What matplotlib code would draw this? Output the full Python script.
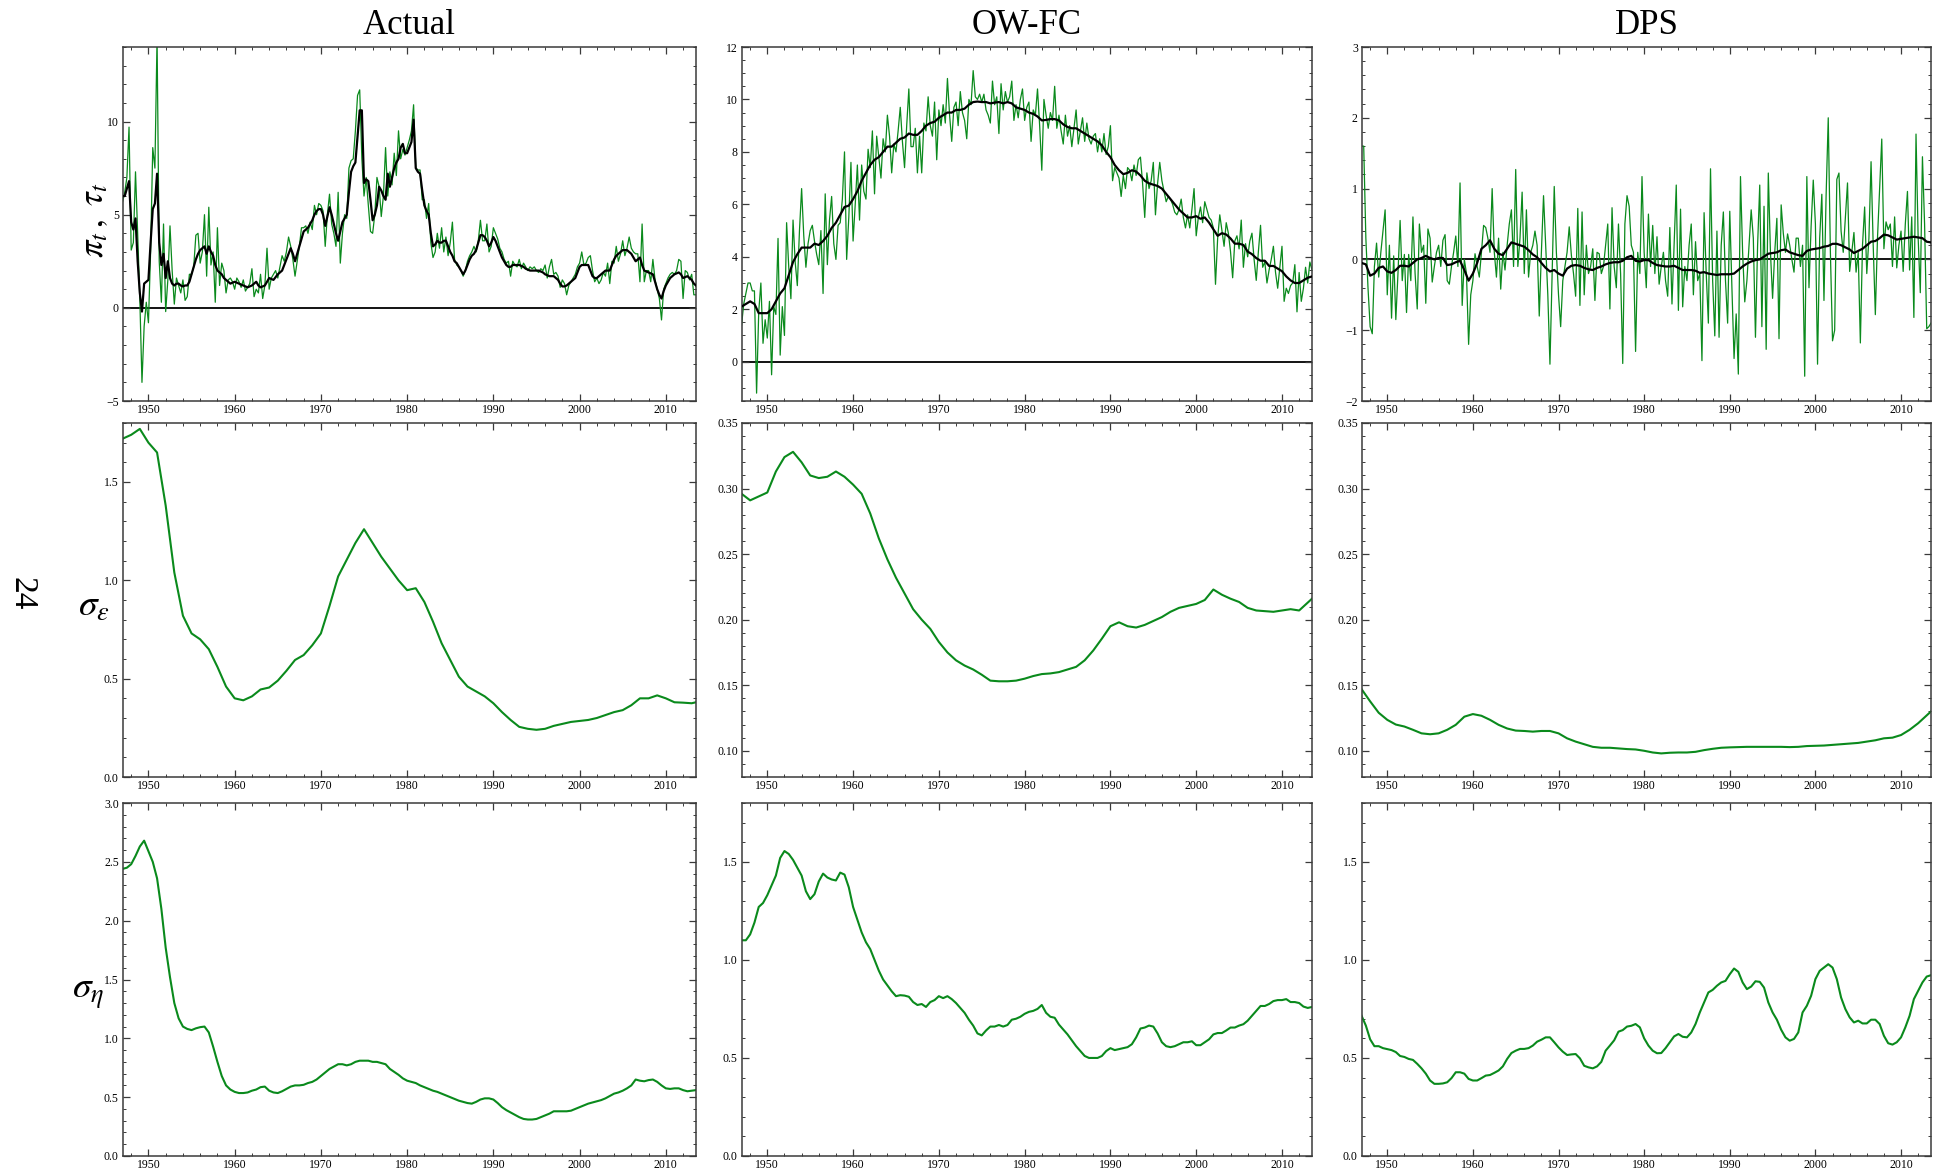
import numpy as np
import matplotlib
matplotlib.use("Agg")
import matplotlib.pyplot as plt
from matplotlib.ticker import MultipleLocator, FuncFormatter

plt.rcParams['font.family'] = ['Liberation Serif', 'DejaVu Serif']
plt.rcParams['mathtext.fontset'] = 'stix'

# ---------------- data ----------------
# quarterly inflation, 1947Q1 onwards (green, top row)
actual_pi = [5.7, 6.2, 7.0, 9.7, 3.1, 3.5, 7.3, 4.0, 0.5, -4.0, -1.0, 0.3,
             -0.8, 3.0, 8.6, 7.5, 14.5, 2.5, 0.3, 4.5, -0.2, 1.5, 4.4, 2.0,
             0.2, 1.6, 1.2, 0.8, 1.5, 0.4, 0.6, 1.8, 1.8, 2.2, 3.9, 4.0,
             2.4, 3.0, 5.0, 1.7, 5.4, 2.3, 3.0, 0.3, 4.3, 1.2, 2.4, 2.0,
             0.8, 1.5, 1.6, 1.4, 1.0, 1.6, 1.4, 1.1, 1.5, 0.9, 1.1, 1.3,
             2.1, 0.6, 1.0, 0.8, 1.8, 0.5, 1.2, 3.2, 1.0, 1.6, 1.8, 2.0,
             1.6, 2.2, 2.8, 2.5, 3.0, 3.8, 3.3, 2.6, 1.7, 2.5, 3.3, 4.3,
             4.3, 4.4, 4.0, 4.6, 4.2, 5.5, 5.0, 5.6, 5.5, 5.2, 3.3, 5.0,
             6.1, 4.5, 4.0, 3.3, 6.2, 2.4, 4.0, 5.0, 4.8, 7.5, 7.9, 8.0,
             9.5, 11.4, 11.7, 8.0, 6.0, 7.0, 5.5, 4.1, 4.0, 5.0, 7.0, 6.5,
             4.9, 6.0, 8.6, 6.0, 7.3, 6.6, 8.3, 7.1, 9.5, 8.0, 8.5, 8.2,
             8.6, 9.0, 9.5, 10.9, 7.5, 7.4, 7.4, 5.8, 5.8, 4.8, 5.6, 3.5,
             2.7, 3.0, 4.0, 3.2, 4.3, 3.0, 3.8, 2.8, 3.5, 4.6, 2.6, 2.3,
             2.2, 2.0, 1.7, 2.0, 2.5, 2.8, 3.0, 3.3, 3.0, 3.6, 4.7, 3.6,
             3.6, 4.5, 3.0, 3.3, 4.3, 4.0, 3.7, 3.2, 3.0, 2.6, 2.4, 2.5,
             1.7, 2.5, 2.3, 2.2, 2.6, 2.1, 2.4, 2.2, 2.0, 2.2, 2.1, 2.2,
             2.0, 1.9, 2.1, 2.0, 2.3, 1.6, 2.2, 2.6, 1.8, 1.9, 1.7, 1.1,
             1.5, 1.3, 0.7, 1.2, 1.4, 1.6, 1.8, 2.2, 2.4, 3.0, 2.3, 2.4,
             2.7, 2.8, 2.0, 1.4, 1.6, 1.3, 1.5, 1.9, 1.7, 2.4, 1.3, 2.5,
             2.4, 3.3, 2.5, 2.9, 3.6, 2.8, 3.2, 3.8, 3.2, 3.0, 2.9, 2.9,
             1.4, 4.5, 1.4, 2.0, 2.0, 1.4, 2.6, 1.5, 1.0, 0.5, -0.65, 1.0,
             1.3, 1.6, 1.8, 1.9, 1.8, 2.0, 2.6, 2.5, 0.5, 2.0, 1.9, 1.5,
             1.8, 0.7, 0.7]
actual_tau = [6.0, 6.0, 6.4, 6.8, 4.6, 4.2, 4.8, 2.5, 0.8, -0.2, 1.3, 1.4,
              1.5, 3.5, 5.3, 5.6, 7.2, 3.5, 2.3, 2.9, 1.6, 2.5, 1.6, 1.3,
              1.2, 1.3, 1.3, 1.2, 1.15, 1.2, 1.2, 1.4, 1.8, 2.2, 2.6, 2.9,
              3.1, 3.2, 3.3, 2.9, 3.3, 3.0, 2.8, 2.3, 2.0, 1.9, 1.8, 1.6,
              1.5, 1.4, 1.3, 1.35, 1.4, 1.35, 1.3, 1.25, 1.2, 1.15, 1.1, 1.15,
              1.2, 1.3, 1.4, 1.2, 1.1, 1.15, 1.2, 1.4, 1.6, 1.55, 1.5, 1.65,
              1.8, 1.9, 2.0, 2.3, 2.6, 2.9, 3.2, 2.9, 2.5, 2.9, 3.3, 3.7,
              4.1, 4.2, 4.3, 4.5, 4.7, 5.0, 5.2, 5.3, 5.3, 5.0, 4.4, 4.9,
              5.4, 5.0, 4.5, 4.0, 3.6, 4.1, 4.6, 4.8, 5.0, 6.2, 7.3, 7.6,
              7.8, 9.2, 10.6, 10.6, 6.7, 6.9, 6.8, 5.8, 4.7, 5.0, 5.5, 6.5,
              6.3, 6.0, 5.8, 7.2, 6.5, 7.0, 7.5, 7.8, 8.0, 8.6, 8.8, 8.3,
              8.3, 8.6, 8.9, 10.1, 7.5, 7.3, 7.2, 6.3, 5.5, 5.2, 5.0, 4.0,
              3.3, 3.4, 3.6, 3.5, 3.5, 3.6, 3.6, 3.3, 3.0, 2.8, 2.5, 2.4,
              2.2, 2.0, 1.8, 2.0, 2.3, 2.6, 2.8, 2.9, 3.1, 3.5, 3.9, 3.9,
              3.8, 3.6, 3.3, 3.5, 3.8, 3.6, 3.3, 3.0, 2.7, 2.5, 2.3, 2.2,
              2.2, 2.3, 2.3, 2.3, 2.3, 2.25, 2.2, 2.1, 2.05, 2.0, 2.0, 2.0,
              2.0, 2.0, 1.95, 1.9, 1.8, 1.75, 1.7, 1.7, 1.7, 1.6, 1.5, 1.3,
              1.15, 1.15, 1.2, 1.3, 1.4, 1.5, 1.6, 1.9, 2.2, 2.3, 2.3, 2.3,
              2.3, 2.0, 1.7, 1.6, 1.6, 1.7, 1.8, 1.9, 2.0, 2.0, 2.0, 2.3,
              2.6, 2.8, 2.9, 3.0, 3.1, 3.1, 3.1, 3.0, 2.9, 2.7, 2.5, 2.6,
              2.7, 2.3, 2.0, 1.95, 1.9, 1.85, 1.8, 1.4, 1.0, 0.7, 0.5, 0.9,
              1.2, 1.4, 1.6, 1.7, 1.8, 1.85, 1.9, 1.8, 1.6, 1.65, 1.7, 1.6,
              1.5, 1.3, 1.2]

owfc_pi = [1.4, 2.2, 2.6, 3.0, 3.0, 2.7, 2.7, -1.2, 1.9, 3.0, 0.7, 1.6,
           0.9, 2.3, -0.5, 2.1, 1.8, 4.7, 0.25, 2.1, 1.0, 5.3, 3.6, 2.4,
           5.4, 3.8, 2.9, 5.0, 6.6, 4.8, 3.6, 4.5, 5.0, 5.2, 4.6, 4.1,
           3.7, 5.0, 2.6, 6.4, 3.7, 5.4, 6.3, 4.5, 3.9, 5.2, 5.3, 6.2,
           8.0, 3.9, 5.5, 7.6, 4.6, 6.0, 7.5, 5.4, 7.5, 6.5, 6.2, 8.1,
           7.4, 8.8, 6.4, 8.6, 7.8, 7.0, 8.5, 8.0, 9.4, 8.6, 7.2, 8.3,
           8.0, 8.8, 9.7, 8.4, 7.4, 9.0, 10.4, 8.2, 8.2, 8.9, 7.2, 8.6,
           7.2, 9.1, 8.8, 10.1, 9.0, 8.6, 9.9, 7.7, 9.6, 9.0, 9.8, 9.1,
           10.8, 9.4, 8.4, 9.7, 9.9, 9.0, 10.3, 9.5, 9.2, 8.5, 10.0, 9.8,
           11.1, 10.1, 10.0, 10.2, 9.9, 10.2, 9.6, 9.4, 9.1, 10.7, 9.8, 10.1,
           8.7, 10.6, 9.6, 10.3, 9.9, 10.1, 10.7, 9.2, 9.8, 9.3, 10.0, 10.4,
           9.2, 9.7, 9.9, 8.4, 9.6, 9.4, 10.4, 9.0, 7.3, 10.0, 9.4, 8.9,
           9.5, 9.2, 10.5, 8.9, 9.4, 8.8, 8.3, 9.4, 8.6, 9.0, 8.2, 8.9,
           9.6, 8.3, 8.8, 9.3, 8.4, 9.1, 8.5, 8.3, 8.6, 8.7, 8.0, 8.5,
           8.0, 8.7, 7.9, 8.2, 9.0, 6.9, 7.4, 7.2, 7.0, 6.3, 7.1, 6.6,
           7.4, 7.3, 6.9, 7.5, 7.1, 7.7, 7.8, 6.8, 5.5, 7.2, 6.6, 6.9,
           7.6, 5.6, 6.8, 7.6, 6.9, 6.5, 6.1, 6.3, 6.2, 6.0, 5.7, 5.6,
           5.8, 6.2, 5.5, 5.1, 5.6, 5.1, 5.8, 6.6, 4.8, 5.5, 5.9, 5.3,
           6.1, 5.8, 5.5, 5.4, 5.1, 2.95, 4.7, 5.6, 5.0, 4.4, 5.3, 4.9,
           4.2, 3.2, 4.6, 4.8, 4.3, 5.4, 3.6, 4.5, 4.0, 4.6, 4.9, 3.9,
           3.1, 4.2, 5.2, 3.6, 3.8, 3.0, 3.5, 3.9, 4.4, 3.4, 2.8, 3.6,
           4.4, 2.3, 2.8, 2.6, 2.9, 3.0, 3.7, 1.9, 3.4, 2.3, 2.8, 3.6,
           3.0, 3.8, 3.5]
# trend, half-yearly from 1947.0
owfc_tau = [2.1, 2.2, 2.3, 2.2, 1.85, 1.85, 1.85, 2.0, 2.3, 2.6, 2.8, 3.3,
            3.8, 4.1, 4.35, 4.35, 4.35, 4.5, 4.45, 4.6, 4.8, 5.1, 5.3, 5.6,
            5.9, 5.95, 6.2, 6.5, 6.9, 7.2, 7.5, 7.7, 7.8, 8.0, 8.2, 8.2,
            8.35, 8.5, 8.55, 8.7, 8.65, 8.65, 8.8, 9.0, 9.1, 9.15, 9.3, 9.4,
            9.5, 9.5, 9.6, 9.6, 9.65, 9.8, 9.9, 9.92, 9.9, 9.9, 9.85, 9.88,
            9.9, 9.85, 9.9, 9.85, 9.7, 9.65, 9.6, 9.5, 9.45, 9.35, 9.2, 9.22,
            9.25, 9.25, 9.2, 9.05, 8.95, 8.9, 8.9, 8.8, 8.7, 8.6, 8.5, 8.4,
            8.25, 8.0, 7.8, 7.5, 7.3, 7.15, 7.2, 7.3, 7.25, 7.1, 6.9, 6.8,
            6.75, 6.7, 6.6, 6.4, 6.2, 6.0, 5.8, 5.65, 5.5, 5.5, 5.55, 5.45,
            5.5, 5.3, 5.05, 4.8, 4.9, 4.85, 4.7, 4.5, 4.5, 4.45, 4.2, 4.1,
            3.95, 3.85, 3.85, 3.65, 3.65, 3.55, 3.45, 3.25, 3.1, 3.0, 3.0, 3.1,
            3.2, 3.25]

dps_pi = [1.6, 1.6, 0.3, -0.4, -0.95, -1.05, -0.1, 0.23, -0.25, 0.1, 0.4, 0.7,
          -0.5, 0.2, -0.83, 0.05, -0.85, -0.2, 0.55, -0.3, 0.07, -0.75, 0.07, -0.3,
          0.6, -0.2, -0.7, 0.5, 0.1, 0.2, -0.62, 0.43, 0.3, -0.32, -0.1, 0.1,
          0.2, -0.1, 0.27, 0.35, -0.3, -0.35, -0.1, 0.1, 0.33, -0.1, 1.08, -0.65,
          0.0, -0.2, -1.2, -0.5, -0.3, 0.08, -0.1, -0.25, 0.1, 0.48, 0.45, 0.3,
          0.1, 1.0, 0.1, -0.25, 0.3, -0.42, 0.1, -0.15, 0.2, 0.5, 0.7, -0.1,
          1.27, -0.1, 0.3, 0.95, -0.2, 0.7, -0.25, 0.1, 0.2, 0.4, 0.2, -0.8,
          0.1, 0.9, 0.2, -0.5, -1.48, -0.2, 1.03, 0.1, -0.5, -0.95, -0.3, -0.1,
          0.1, 0.46, 0.06, -0.2, -0.52, 0.72, -0.65, 0.67, -0.5, 0.2, -0.2, -0.1,
          0.15, -0.58, 0.1, 0.08, -0.2, -0.1, 0.2, 0.5, -0.7, 0.73, -0.1, -0.4,
          0.5, -0.2, -1.47, 0.5, 0.9, 0.75, 0.2, 0.1, -1.3, 0.1, -0.2, 1.17,
          0.1, -0.4, 0.64, -0.1, 0.48, -0.2, 0.32, -0.35, -0.1, 0.1, -0.3, -0.52,
          0.45, -0.63, 0.2, 1.05, -0.72, 0.71, -0.67, -0.1, -0.3, 0.2, 0.5, -0.5,
          0.25, -0.3, -0.2, -1.43, 0.66, -0.2, -0.9, 1.28, -0.3, -1.08, 0.4, -1.1,
          0.2, 0.67, -0.3, -0.9, 0.68, -0.4, -1.4, -0.77, -1.62, 1.17, 0.1, -0.6,
          -0.3, 0.2, 0.7, 0.3, -1.1, 0.2, 1.05, -0.95, 0.75, -1.27, 1.22, 0.1,
          -0.55, 0.1, 0.58, -1.12, 0.77, 0.37, 0.1, 0.36, 0.2, 0.0, -0.18, 0.3,
          0.3, -0.1, 0.2, -1.65, 1.17, -0.4, 0.47, 1.12, 0.5, -1.48, 0.3, 0.92,
          -0.58, 0.9, 2.0, 0.1, -1.15, -1.0, 1.13, 1.22, 0.4, 0.1, 0.6, 1.08,
          -0.17, 0.1, 0.38, -0.18, 0.1, -1.18, 0.2, 0.74, -0.2, 0.3, 1.38, 0.2,
          -0.78, 0.3, 1.0, 1.7, 0.15, 0.53, 0.42, 0.5, -0.1, 0.6, -0.12, 0.2,
          0.4, -0.17, 0.5, 0.96, -0.15, 0.6, -0.82, 1.77, 0.3, -0.47, 1.45, 0.5,
          -0.98, -0.95, -0.9]
dps_tau = [-0.05, -0.07, -0.23, -0.2, -0.12, -0.1, -0.17, -0.19, -0.15, -0.09,
           -0.09, -0.1, -0.05, 0.0, 0.02, 0.05, 0.02, 0.0, 0.02, 0.02,
           -0.08, -0.07, -0.04, -0.02, -0.15, -0.3, -0.2, -0.05, 0.15, 0.2,
           0.27, 0.15, 0.08, 0.06, 0.15, 0.24, 0.22, 0.2, 0.18, 0.13,
           0.07, 0.03, -0.05, -0.12, -0.17, -0.15, -0.2, -0.23, -0.13, -0.09,
           -0.08, -0.09, -0.12, -0.14, -0.15, -0.12, -0.1, -0.07, -0.05, -0.04,
           -0.04, -0.02, 0.03, 0.05, -0.02, -0.03, -0.01, -0.01, -0.05, -0.08,
           -0.09, -0.1, -0.1, -0.09, -0.12, -0.15, -0.15, -0.15, -0.16, -0.19,
           -0.18, -0.2, -0.21, -0.22, -0.21, -0.21, -0.21, -0.2, -0.15, -0.1,
           -0.06, -0.03, -0.01, 0.0, 0.04, 0.08, 0.09, 0.1, 0.13, 0.14,
           0.1, 0.08, 0.06, 0.05, 0.12, 0.14, 0.15, 0.16, 0.18, 0.19,
           0.22, 0.22, 0.2, 0.17, 0.14, 0.09, 0.12, 0.15, 0.2, 0.25,
           0.26, 0.3, 0.35, 0.34, 0.31, 0.28, 0.29, 0.3, 0.31, 0.32,
           0.31, 0.3, 0.25, 0.24]

# sigma_epsilon, yearly from 1947.0
sig_eps_actual = [1.72, 1.74, 1.77, 1.70, 1.65, 1.38, 1.04, 0.82, 0.73, 0.70,
                  0.65, 0.56, 0.46, 0.40, 0.39, 0.41, 0.445, 0.455, 0.49, 0.54,
                  0.595, 0.62, 0.67, 0.73, 0.87, 1.02, 1.105, 1.19, 1.26, 1.19,
                  1.12, 1.06, 1.00, 0.95, 0.96, 0.89, 0.79, 0.68, 0.595, 0.51,
                  0.46, 0.435, 0.41, 0.375, 0.33, 0.29, 0.255, 0.245, 0.24, 0.245,
                  0.26, 0.27, 0.28, 0.285, 0.29, 0.30, 0.315, 0.33, 0.34, 0.365,
                  0.40, 0.40, 0.415, 0.40, 0.38, 0.378, 0.375, 0.385]
sig_eps_owfc = [0.296, 0.291, 0.294, 0.297, 0.313, 0.324, 0.328, 0.32, 0.31, 0.308,
                0.309, 0.313, 0.309, 0.303, 0.296, 0.281, 0.262, 0.246, 0.232, 0.220,
                0.208, 0.200, 0.193, 0.183, 0.175, 0.169, 0.165, 0.162, 0.158, 0.1535,
                0.153, 0.153, 0.1535, 0.155, 0.157, 0.1585, 0.159, 0.160, 0.162, 0.164,
                0.169, 0.1765, 0.1855, 0.195, 0.198, 0.195, 0.194, 0.196, 0.199, 0.202,
                0.206, 0.209, 0.2105, 0.212, 0.215, 0.223, 0.219, 0.216, 0.2135, 0.209,
                0.207, 0.2065, 0.206, 0.207, 0.208, 0.207, 0.213, 0.219]
sig_eps_dps = [0.147, 0.1377, 0.129, 0.1236, 0.120, 0.1185, 0.116, 0.1133, 0.1126, 0.1133,
               0.116, 0.1198, 0.126, 0.128, 0.1267, 0.1236, 0.1198, 0.117, 0.1154, 0.1151,
               0.1146, 0.1151, 0.1151, 0.1133, 0.1095, 0.107, 0.105, 0.103, 0.1023, 0.1023,
               0.1018, 0.1013, 0.101, 0.100, 0.0987, 0.098, 0.0985, 0.0987, 0.0987, 0.0992,
               0.1005, 0.1015, 0.1023, 0.1026, 0.1028, 0.103, 0.103, 0.103, 0.103, 0.103,
               0.1028, 0.103, 0.1036, 0.1038, 0.104, 0.1045, 0.105, 0.1055, 0.106, 0.107,
               0.108, 0.1095, 0.110, 0.112, 0.116, 0.121, 0.127, 0.133]

# sigma_eta, half-yearly from 1947.0
sig_eta_actual = [2.44, 2.45, 2.48, 2.55, 2.63, 2.68, 2.59, 2.50, 2.36, 2.10,
                  1.77, 1.52, 1.30, 1.17, 1.10, 1.08, 1.07, 1.085, 1.095, 1.10,
                  1.05, 0.93, 0.80, 0.68, 0.60, 0.565, 0.545, 0.535, 0.535, 0.54,
                  0.555, 0.565, 0.585, 0.59, 0.555, 0.54, 0.535, 0.55, 0.57, 0.59,
                  0.60, 0.60, 0.605, 0.62, 0.63, 0.65, 0.68, 0.71, 0.74, 0.76,
                  0.78, 0.78, 0.77, 0.78, 0.80, 0.81, 0.81, 0.81, 0.80, 0.80,
                  0.79, 0.78, 0.74, 0.715, 0.69, 0.66, 0.64, 0.63, 0.62, 0.60,
                  0.585, 0.57, 0.555, 0.545, 0.53, 0.515, 0.50, 0.485, 0.47, 0.46,
                  0.45, 0.445, 0.46, 0.48, 0.49, 0.49, 0.48, 0.45, 0.415, 0.39,
                  0.37, 0.35, 0.33, 0.315, 0.31, 0.31, 0.315, 0.33, 0.345, 0.36,
                  0.38, 0.38, 0.38, 0.38, 0.385, 0.40, 0.415, 0.43, 0.445, 0.455,
                  0.465, 0.475, 0.49, 0.51, 0.53, 0.54, 0.555, 0.575, 0.60, 0.65,
                  0.64, 0.635, 0.645, 0.65, 0.63, 0.60, 0.575, 0.57, 0.575, 0.575,
                  0.56, 0.55, 0.555, 0.56, 0.56]
sig_eta_owfc = [1.10, 1.10, 1.13, 1.19, 1.27, 1.29, 1.33, 1.38, 1.43, 1.52,
                1.555, 1.54, 1.51, 1.47, 1.43, 1.35, 1.31, 1.335, 1.40, 1.44,
                1.42, 1.41, 1.405, 1.445, 1.435, 1.37, 1.27, 1.205, 1.14, 1.09,
                1.055, 1.00, 0.945, 0.90, 0.87, 0.84, 0.815, 0.82, 0.818, 0.812,
                0.785, 0.77, 0.775, 0.76, 0.785, 0.795, 0.815, 0.805, 0.815, 0.80,
                0.78, 0.755, 0.73, 0.695, 0.665, 0.625, 0.615, 0.64, 0.66, 0.66,
                0.668, 0.66, 0.668, 0.695, 0.70, 0.71, 0.725, 0.735, 0.74, 0.75,
                0.77, 0.73, 0.71, 0.705, 0.67, 0.645, 0.62, 0.59, 0.56, 0.535,
                0.51, 0.50, 0.50, 0.50, 0.51, 0.535, 0.55, 0.54, 0.545, 0.55,
                0.555, 0.57, 0.605, 0.65, 0.655, 0.665, 0.66, 0.625, 0.58, 0.56,
                0.555, 0.56, 0.57, 0.58, 0.58, 0.585, 0.565, 0.565, 0.58, 0.595,
                0.62, 0.627, 0.627, 0.64, 0.655, 0.655, 0.665, 0.672, 0.69, 0.715,
                0.74, 0.765, 0.765, 0.775, 0.79, 0.795, 0.795, 0.80, 0.785, 0.785,
                0.78, 0.762, 0.755, 0.76, 0.765]
sig_eta_dps = [0.715, 0.665, 0.595, 0.56, 0.56, 0.55, 0.545, 0.54, 0.53, 0.51,
               0.505, 0.495, 0.49, 0.47, 0.447, 0.42, 0.385, 0.368, 0.368, 0.37,
               0.376, 0.397, 0.427, 0.427, 0.42, 0.393, 0.385, 0.385, 0.397, 0.41,
               0.413, 0.424, 0.436, 0.457, 0.495, 0.525, 0.537, 0.546, 0.546, 0.55,
               0.563, 0.583, 0.593, 0.605, 0.605, 0.58, 0.554, 0.532, 0.515, 0.518,
               0.52, 0.498, 0.46, 0.452, 0.447, 0.457, 0.48, 0.537, 0.563, 0.59,
               0.634, 0.642, 0.66, 0.664, 0.673, 0.656, 0.60, 0.563, 0.537, 0.524,
               0.525, 0.55, 0.58, 0.61, 0.622, 0.608, 0.605, 0.63, 0.673, 0.732,
               0.783, 0.834, 0.847, 0.868, 0.885, 0.893, 0.927, 0.956, 0.939, 0.885,
               0.851, 0.864, 0.891, 0.888, 0.859, 0.783, 0.732, 0.695, 0.644, 0.605,
               0.588, 0.597, 0.63, 0.732, 0.766, 0.817, 0.902, 0.944, 0.961, 0.978,
               0.961, 0.902, 0.808, 0.749, 0.707, 0.681, 0.69, 0.676, 0.676, 0.695,
               0.695, 0.673, 0.613, 0.575, 0.568, 0.58, 0.605, 0.656, 0.715, 0.80,
               0.842, 0.885, 0.915, 0.922, 0.93]

titles = ['Actual', 'OW-FC', 'DPS']
row_labels = [r'$\pi_t\,,\ \tau_t$', r'$\sigma_\epsilon$', r'$\sigma_\eta$']


def tgrid(vals, step):
    return 1947.0 + step * np.arange(len(vals))


def minus_fmt(fmt):
    # proper minus sign like the original
    return FuncFormatter(lambda v, pos: (fmt % v).replace('-', '\u2212'))


GREEN = '#0a8a1c'
FRAME = '#3a3a3a'

fig = plt.figure(figsize=(19.41, 11.71), dpi=100)
W, H = 1941.0, 1171.0
col_px = [(123, 696), (742, 1312), (1362, 1931)]
row_px = [(47, 401), (423, 777), (803, 1156)]

axes = [[None] * 3 for _ in range(3)]
for r, (top, bot) in enumerate(row_px):
    for c, (lft, rgt) in enumerate(col_px):
        ax = fig.add_axes([lft / W, 1 - bot / H, (rgt - lft) / W, (bot - top) / H])
        axes[r][c] = ax

# top row: inflation and trend
top_data = [(actual_pi, actual_tau, 0.25), (owfc_pi, owfc_tau, 0.5), (dps_pi, dps_tau, 0.5)]
for c, (pi, tau, tstep) in enumerate(top_data):
    ax = axes[0][c]
    ax.axhline(0, color='black', lw=1.3, zorder=1)
    ax.plot(tgrid(pi, 0.25), pi, color=GREEN, lw=0.9, zorder=2)
    ax.plot(tgrid(tau, tstep), tau, color='black', lw=1.6, zorder=3)

for c, s in enumerate([sig_eps_actual, sig_eps_owfc, sig_eps_dps]):
    axes[1][c].plot(tgrid(s, 1.0), s, color=GREEN, lw=1.5)
for c, s in enumerate([sig_eta_actual, sig_eta_owfc, sig_eta_dps]):
    axes[2][c].plot(tgrid(s, 0.5), s, color=GREEN, lw=1.5)

# limits and ticks: (ymin, ymax, major, minor, fmt)
yspec = [
    [(-5, 14, 5, 1, '%d'), (-1.5, 12, 2, 0.5, '%d'), (-2, 3, 1, 0.2, '%d')],
    [(0, 1.8, 0.5, 0.1, '%.1f'), (0.08, 0.35, 0.05, 0.01, '%.2f'), (0.08, 0.35, 0.05, 0.01, '%.2f')],
    [(0, 3, 0.5, 0.1, '%.1f'), (0, 1.8, 0.5, 0.1, '%.1f'), (0, 1.8, 0.5, 0.1, '%.1f')],
]
for r in range(3):
    for c in range(3):
        ax = axes[r][c]
        y0, y1, maj, mnr, fmt = yspec[r][c]
        ax.set_xlim(1947.05, 2013.5)
        ax.set_ylim(y0, y1)
        ax.xaxis.set_major_locator(MultipleLocator(10))
        ax.xaxis.set_minor_locator(MultipleLocator(2))
        ax.yaxis.set_major_locator(MultipleLocator(maj))
        ax.yaxis.set_minor_locator(MultipleLocator(mnr))
        ax.yaxis.set_major_formatter(minus_fmt(fmt))
        ax.tick_params(which='both', direction='in', top=True, right=True,
                       labelsize=8.5, color=FRAME)
        ax.tick_params(axis='x', pad=2)
        ax.tick_params(axis='y', pad=3)
        ax.tick_params(which='major', length=5, width=0.9)
        ax.tick_params(which='minor', length=2.5, width=0.7)
        for sp in ax.spines.values():
            sp.set_color(FRAME)
            sp.set_linewidth(1.1)

for c in range(3):
    axes[0][c].set_title(titles[c], fontsize=25, pad=9)

# row labels
fig.text(95 / W, 1 - 220 / H, row_labels[0], fontsize=25, rotation=90,
         ha='center', va='center')
fig.text(94 / W, 1 - 607 / H, row_labels[1], fontsize=27, ha='center', va='center')
fig.text(88 / W, 1 - 994 / H, row_labels[2], fontsize=27, ha='center', va='center')

# page number
fig.text(22 / W, 1 - 594 / H, '24', fontsize=24, rotation=270, ha='center', va='center')

fig.savefig('out.png', dpi=100)
